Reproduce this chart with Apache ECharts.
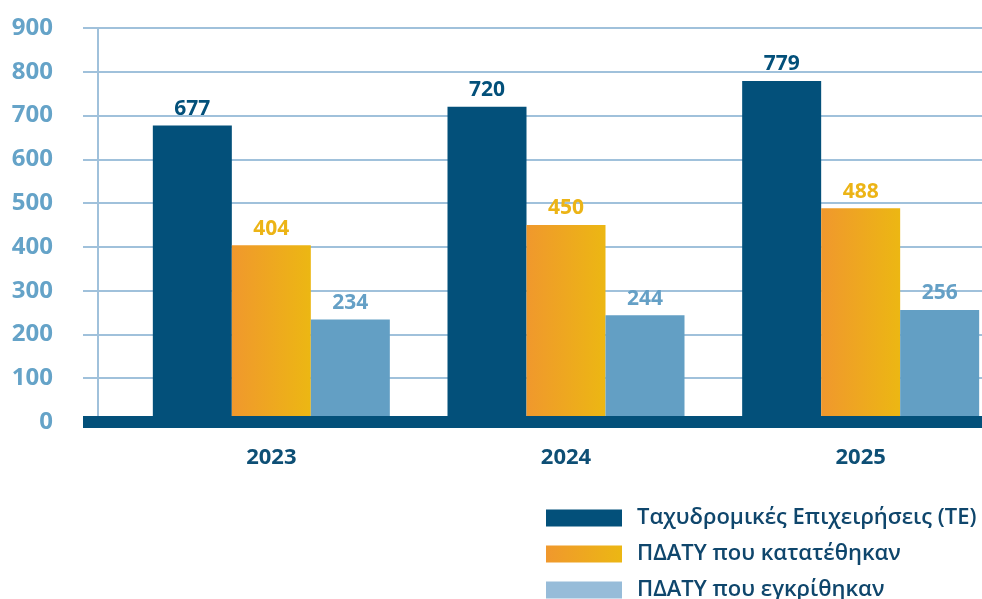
<!DOCTYPE html>
<html>
<head>
<meta charset="utf-8">
<script src="https://cdn.jsdelivr.net/npm/echarts@6/dist/echarts.min.js"></script>
<style>
  html, body { margin: 0; padding: 0; background: #fff; }
  #chart { width: 982px; height: 599px; }
</style>
</head>
<body>
<div id="chart"></div>
<script>
// years on x
const years = ['2023', '2024', '2025'];
// series values
const postalCompanies = [677, 720, 779];
const filed = [404, 450, 488];
const approved = [234, 244, 256];
const seriesNames = ['Ταχυδρομικές Επιχειρήσεις (ΤΕ)', 'ΠΔΑΤΥ που κατατέθηκαν', 'ΠΔΑΤΥ που εγκρίθηκαν'];

const DARK = '#03507a';
const LIGHT = '#639fc4';
const GRID_LINE = '#a0c1db';

const chart = echarts.init(document.getElementById('chart'));

function valueLabel(color) {
  return {
    show: true,
    position: 'top',
    distance: 6,
    color: color,
    fontFamily: 'Open Sans',
    fontWeight: 'bold',
    fontSize: 21
  };
}

chart.setOption({
  animation: false,
  grid: [
    // background grid: horizontal lines + thick base band
    { left: 83, right: 0, top: 28, bottom: 177, outerBoundsMode: 'none' },
    // bars (runs a bit past the right edge, like the original)
    { left: 124, right: -26, top: 28, bottom: 177, outerBoundsMode: 'none' }
  ],
  legend: {
    orient: 'vertical',
    left: 546,
    top: 507,
    height: 140,
    padding: 0,
    itemWidth: 76,
    itemHeight: 17,
    itemGap: 14,
    icon: 'rect',
    textStyle: {
      fontFamily: 'Open Sans',
      fontSize: 22,
      fontWeight: 600,
      color: '#0f466c',
      padding: [0, 0, 0, 10]
    },
    data: [
      { name: seriesNames[0] },
      { name: seriesNames[1] },
      { name: seriesNames[2], itemStyle: { color: '#97bcd9' } }
    ]
  },
  xAxis: [
    {
      gridIndex: 0,
      type: 'category',
      data: years,
      z: 5,
      axisLine: { show: true, lineStyle: { color: DARK, width: 12, cap: 'butt' } },
      axisTick: { show: false },
      axisLabel: { show: false }
    },
    {
      gridIndex: 1,
      type: 'category',
      data: years,
      axisLine: { show: false },
      axisTick: { show: false },
      axisLabel: {
        margin: 25,
        color: '#0e4f75',
        fontFamily: 'Open Sans',
        fontWeight: 'bold',
        fontSize: 22
      }
    }
  ],
  yAxis: [
    {
      gridIndex: 0,
      type: 'value',
      min: 0,
      max: 900,
      interval: 100,
      axisLine: { show: false },
      axisTick: { show: false },
      axisLabel: { show: false },
      splitLine: { show: true, lineStyle: { color: GRID_LINE, width: 2 } }
    },
    {
      gridIndex: 1,
      type: 'value',
      min: 0,
      max: 900,
      interval: 100,
      offset: 26,
      axisLine: { show: true, lineStyle: { color: GRID_LINE, width: 2 } },
      axisTick: { show: false },
      splitLine: { show: false },
      axisLabel: {
        margin: 45,
        color: '#65a3c8',
        fontFamily: 'Open Sans',
        fontWeight: 'bold',
        fontSize: 24
      }
    }
  ],
  series: [
    {
      name: seriesNames[0],
      type: 'bar',
      xAxisIndex: 1,
      yAxisIndex: 1,
      barWidth: 79,
      barGap: '0%',
      itemStyle: { color: DARK },
      label: valueLabel(DARK),
      data: postalCompanies
    },
    {
      name: seriesNames[1],
      type: 'bar',
      xAxisIndex: 1,
      yAxisIndex: 1,
      barWidth: 79,
      barGap: '0%',
      itemStyle: {
        color: {
          type: 'linear', x: 0, y: 0, x2: 1, y2: 0,
          colorStops: [
            { offset: 0, color: '#f0982d' },
            { offset: 1, color: '#ecb713' }
          ]
        }
      },
      label: valueLabel('#ecb416'),
      data: filed
    },
    {
      name: seriesNames[2],
      type: 'bar',
      xAxisIndex: 1,
      yAxisIndex: 1,
      barWidth: 79,
      barGap: '0%',
      itemStyle: { color: LIGHT },
      label: valueLabel('#65a0c6'),
      data: approved
    }
  ]
});
</script>
</body>
</html>
